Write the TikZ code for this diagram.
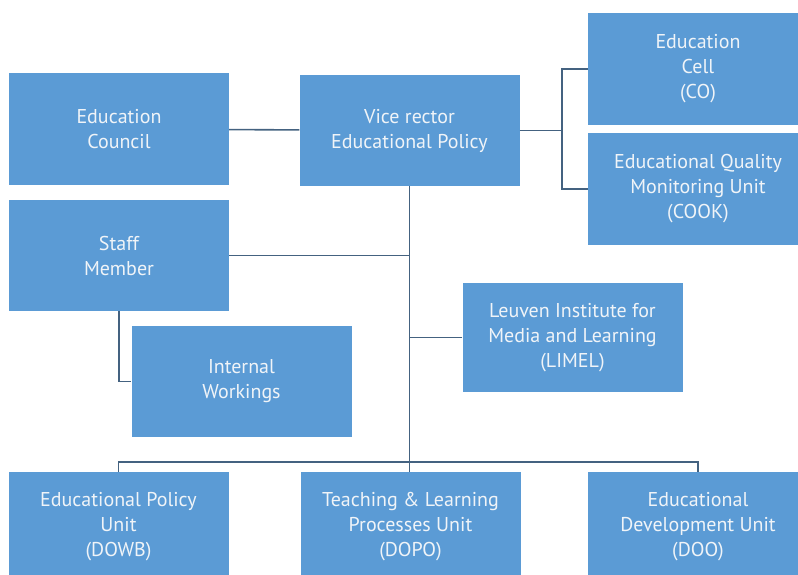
\documentclass[tikz,border=0pt]{standalone}
\usepackage{fontspec}
\setmainfont{PT Sans}
\usepackage{xcolor}
\usepackage{tikz}
\definecolor{boxblue}{RGB}{91,155,213}
\definecolor{linkgray}{RGB}{68,98,128}
\definecolor{labelwhite}{RGB}{240,244,248}

\begin{document}
\begin{tikzpicture}[x=1pt,y=-1pt,font=\fontsize{20}{25}\selectfont,
  unit/.style={fill=boxblue,text=labelwhite,align=center,inner sep=0pt,
    minimum width=220pt,minimum height=111pt},
  link/.style={draw=linkgray,line width=1.6pt}]
  \useasboundingbox (0,0) rectangle (798,575);
  \clip (0,0) rectangle (798,575);
  % top part
  \node[unit] (council) at (119,129) {Education\\Council};
  \node[unit] (vice) at (409.5,130.5) {Vice rector\\Educational Policy};
  \node[unit,minimum height=112pt] (cell) at (698,69) {Education\\Cell\\(CO)};
  \node[unit,minimum height=112pt] (cook) at (698,189) {Educational Quality\\Monitoring Unit\\(COOK)};
  \node[unit] (staff) at (119,255.5) {Staff\\Member};
  \node[unit] (internal) at (241.5,381.5) {Internal\\Workings};
  \node[unit,minimum height=109pt] (limel) at (572.5,337.5) {Leuven Institute for\\Media and Learning\\(LIMEL)};
  % bottom row, runs off the page
  \foreach \name/\x/\txt in {dowb/118.5/{Educational Policy\\Unit\\(DOWB)},
      dopo/410.5/{Teaching \& Learning\\Processes Unit\\(DOPO)},
      doo/698/{Educational\\Development Unit\\(DOO)}}
    \node[unit,minimum height=110pt] (\name) at (\x,527) {\txt};
  % connectors
  \draw[link] (council) -- (vice);
  \draw[link] (vice.east) -- ++(42,0) coordinate (fork);
  \draw[link] (cell.west) -| (fork) |- (cook.west);
  \draw[link] (vice.south) -- (vice.south |- dopo.north);
  \draw[link] (staff) -- (staff -| vice);
  \draw[link] (limel) -- (limel -| vice);
  \draw[link] (staff.south) |- (internal.west);
  \draw[link] (dowb.north) -- ++(0,-10) -| (doo.north);
\end{tikzpicture}
\end{document}
